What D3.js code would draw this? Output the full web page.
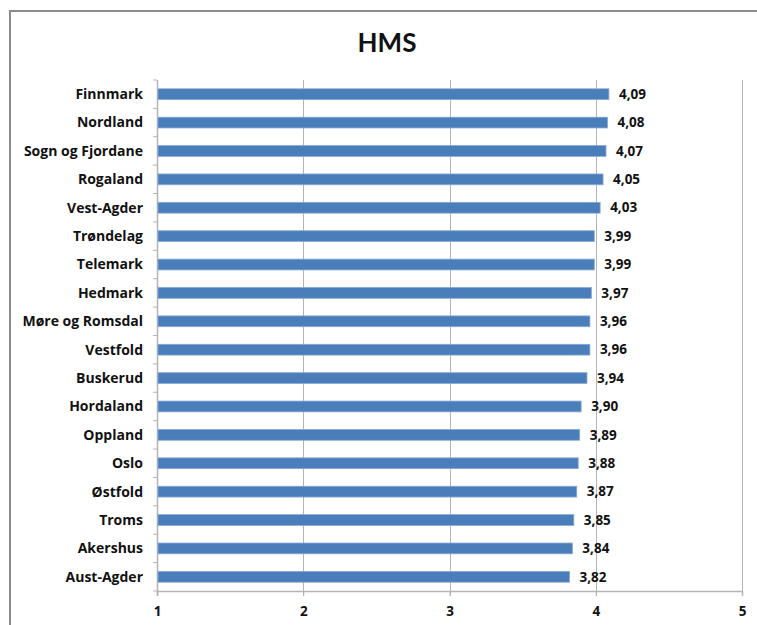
<!DOCTYPE html>
<html>
<head>
<meta charset="utf-8">
<script src="https://cdn.jsdelivr.net/npm/d3@7"></script>
<style>
    html, body { margin: 0; padding: 0; background: #fff; overflow: hidden; }
    svg { display: block; }
    text { font-family: "Open Sans", sans-serif; font-weight: bold; fill: #111; }
</style>
</head>
<body>
<div id="chart"></div>
<script>
// chart data
let chartTitle = "HMS";
let regions = ["Finnmark", "Nordland", "Sogn og Fjordane", "Rogaland", "Vest-Agder",
    "Trøndelag", "Telemark", "Hedmark", "Møre og Romsdal", "Vestfold", "Buskerud",
    "Hordaland", "Oppland", "Oslo", "Østfold", "Troms", "Akershus", "Aust-Agder"];
let scores = [4.09, 4.08, 4.07, 4.05, 4.03, 3.99, 3.99, 3.97, 3.96, 3.96, 3.94,
    3.90, 3.89, 3.88, 3.87, 3.85, 3.84, 3.82];
let xTicks = [1, 2, 3, 4, 5];

let commaFormat = d3.format(".2f");

let W = 757, H = 625;
let margin = {top: 80, right: 15, bottom: 34, left: 157},
    width = 742 - margin.left,
    height = 591 - margin.top;

let svg = d3.select("#chart").append("svg")
    .attr("width", W)
    .attr("height", H);

// outer chart frame: only top and left edges are inside the picture
svg.append("path")
    .attr("d", "M10," + H + "V11H" + W)
    .attr("fill", "none")
    .attr("stroke", "#8c8c8c")
    .attr("stroke-width", 2);

// title
svg.append("text")
    .attr("x", 387)
    .attr("y", 52)
    .style("text-anchor", "middle")
    .style("font-family", "Lato, sans-serif")
    .style("font-size", "26px")
    .text(chartTitle);

let g = svg.append("g")
    .attr("transform", "translate(" + margin.left + "," + margin.top + ")");

let x = d3.scaleLinear().domain([1, 5]).range([0, width]);
let y = d3.scaleBand().domain(regions).range([0, height]).paddingInner(0.62).paddingOuter(0.31);

// vertical gridlines + ticks below the axis
g.selectAll(".grid")
    .data(xTicks.slice(1))
    .enter().append("line")
    .attr("class", "grid")
    .attr("x1", function (d) { return Math.round(x(d)) + 0.5; })
    .attr("x2", function (d) { return Math.round(x(d)) + 0.5; })
    .attr("y1", 0)
    .attr("y2", height + 5)
    .attr("stroke", "#b4b4b4")
    .attr("stroke-width", 1);

// x axis
let xAxis = g.append("g")
    .attr("transform", "translate(0," + height + ")")
    .call(d3.axisBottom(x).tickValues(xTicks).tickFormat(d3.format("d")).tickSize(5).tickPadding(10));
xAxis.select(".domain").attr("stroke", "#b4b4b4").attr("stroke-width", 1.5);
xAxis.selectAll(".tick line").attr("stroke", "#b4b4b4");
xAxis.selectAll("text").style("font-size", "13.5px").style("font-family", "'Open Sans', sans-serif").attr("fill", "#111");

// y axis: category separators on the left
let bandStep = y.step();
let yAxisG = g.append("g");
yAxisG.append("line")
    .attr("x1", 0.5).attr("x2", 0.5)
    .attr("y1", 0).attr("y2", height + 5)
    .attr("stroke", "#b4b4b4")
    .attr("stroke-width", 1.5);
yAxisG.selectAll(".sep")
    .data(d3.range(regions.length + 1))
    .enter().append("line")
    .attr("class", "sep")
    .attr("x1", -4).attr("x2", 0)
    .attr("y1", function (i) { return i * bandStep; })
    .attr("y2", function (i) { return i * bandStep; })
    .attr("stroke", "#b4b4b4");

yAxisG.selectAll(".cat")
    .data(regions)
    .enter().append("text")
    .attr("class", "cat")
    .attr("x", -14)
    .attr("y", function (d) { return y(d) + y.bandwidth() / 2; })
    .attr("dy", "0.35em")
    .style("text-anchor", "end")
    .style("font-size", "14px")
    .text(function (d) { return d; });

// bars
let data = regions.map(function (r, i) { return {region: r, score: scores[i]}; });

g.selectAll(".bar")
    .data(data)
    .enter().append("rect")
    .attr("class", "bar")
    .attr("x", 1)
    .attr("y", function (d) { return y(d.region); })
    .attr("width", function (d) { return x(d.score) - 1; })
    .attr("height", y.bandwidth())
    .attr("fill", "#4a7ebb")
    .attr("stroke", "#86a9d6")
    .attr("stroke-width", 0.8);

// value labels
g.selectAll(".val")
    .data(data)
    .enter().append("text")
    .attr("class", "val")
    .attr("x", function (d) { return x(d.score) + 10; })
    .attr("y", function (d) { return y(d.region) + y.bandwidth() / 2; })
    .attr("dy", "0.35em")
    .style("font-size", "13.5px")
    .text(function (d) { return commaFormat(d.score).replace(".", ","); });
</script>
</body>
</html>
